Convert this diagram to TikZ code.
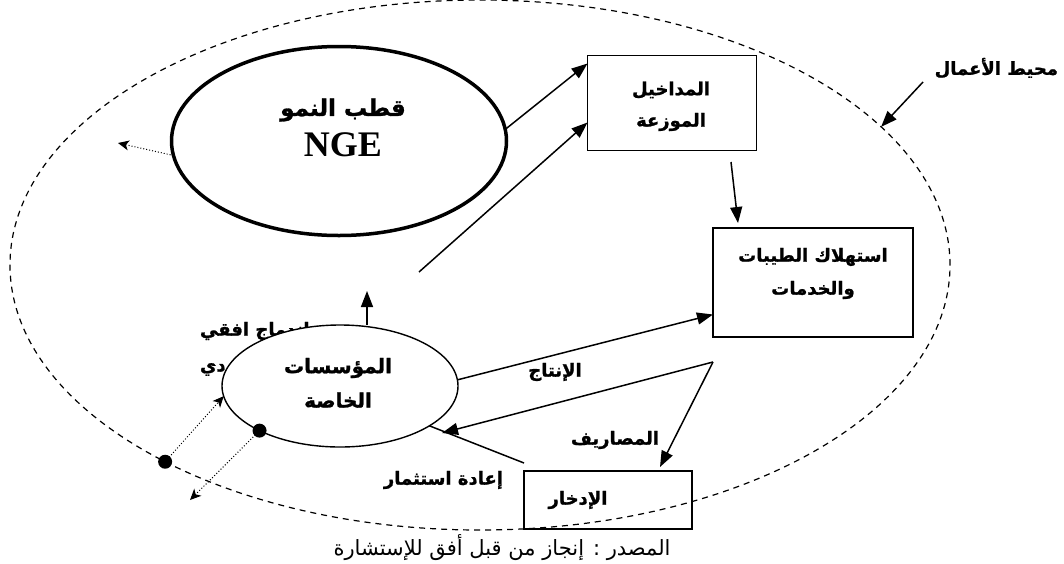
\documentclass[tikz,border=0pt]{standalone}
\usepackage{fontspec}
\setmainfont{Liberation Serif}
\newfontfamily\arabicfont[Script=Arabic,BoldFeatures={FakeBold=1.2}]{DejaVu Sans}
\TeXXeTstate=1
\usetikzlibrary{arrows.meta,shapes.geometric}
\newcommand{\RL}[1]{\beginR #1\endR}
\begin{document}
\begin{tikzpicture}[x=1pt,y=-1pt,
  every node/.style={outer sep=0pt},
  arr/.style={-{Triangle[length=16pt,width=12pt]}, line width=1.5pt},
  plain/.style={line width=1.5pt},
  dotarr/.style={-{Stealth[length=11pt,width=10pt,inset=3pt]}, dotted, line width=1pt},
  bx/.style={draw, line width=1.8pt, inner sep=0pt},
  lbl/.style={font=\arabicfont\bfseries\fontsize{18}{20}\selectfont, inner sep=0pt},
  dot/.style={circle, fill=black, inner sep=0pt, minimum size=14pt},
  envstyle/.style={ellipse, draw, dash pattern=on 6pt off 5pt, line width=1.2pt,
    minimum width=940pt, minimum height=530pt, inner sep=0pt}]
\useasboundingbox (0,0) rectangle (1064,563);

% environment
\node[envstyle] (env) at (480,265) {};

% growth pole
\node[ellipse, draw, line width=3.5pt, minimum width=335pt, minimum height=189pt, inner sep=0pt] (nge) at (339,141) {};
\node[lbl, font=\arabicfont\bfseries\fontsize{23}{25}\selectfont] (ngeA) at (343,110) {\RL{قطب النمو}};
\node[font=\bfseries\fontsize{36}{38}\selectfont, inner sep=0pt] (ngeB) at (343,145) {NGE};

% boxes
\node[bx, minimum width=169pt, minimum height=95pt] (box1) at (672,103) {};
\node[lbl] (b1a) at (671,90) {\RL{المداخيل}};
\node[lbl] (b1b) at (671,122) {\RL{الموزعة}};

\node[bx, minimum width=200pt, minimum height=109pt] (box2) at (813,282.5) {};
\node[lbl] (b2a) at (813,257) {\RL{استهلاك الطيبات}};
\node[lbl] (b2b) at (813,290) {\RL{والخدمات}};

\node[bx, minimum width=168pt, minimum height=58pt] (box3) at (608,500) {};
\node[lbl] (b3) at (578,500) {\RL{الإدخار}};

% text partly hidden behind private enterprises
\node[lbl, anchor=west] (m1) at (200,331) {\RL{اندماج افقي}};
\node[lbl, anchor=west] (m2) at (200,369) {\RL{وعمودي}};

% private enterprises
\node[ellipse, draw, fill=white, line width=1.4pt, minimum width=236pt, minimum height=122pt, inner sep=0pt] (pm) at (340,386) {};
\node[lbl, font=\arabicfont\bfseries\fontsize{20}{22}\selectfont] (pma) at (338,368) {\RL{المؤسسات}};
\node[lbl, font=\arabicfont\bfseries\fontsize{20}{22}\selectfont] (pmb) at (338,400) {\RL{الخاصة}};

% other labels
\node[lbl] (prod) at (555,372) {\RL{الإنتاج}};
\node[lbl] (exp) at (615,440) {\RL{المصاريف}};
\node[lbl, anchor=east] (reinv) at (503,480) {\RL{إعادة استثمار}};
\node[lbl, anchor=east] (envlbl) at (1058,68) {\RL{محيط الأعمال}};
\node[font=\arabicfont\fontsize{21}{23}\selectfont, inner sep=0pt] (src) at (502,548) {\RL{المصدر : إنجاز من قبل أفق للإستشارة}};

% coordinates for free ends
\coordinate (c1) at (419,272);
\coordinate (c2) at (731,162);
\coordinate (up) at (367,291);
\coordinate (apex) at (713,362);
\coordinate (tipm) at (442,433);
\coordinate (la) at (923,82);
\coordinate (t0) at (118,143);
\coordinate (t1) at (190,500);

% connectors
\draw[arr] (nge.4) -- ([yshift=-8pt]box1.north west);
\draw[arr] (c1) -- ([yshift=-67pt]box1.north west);
\draw[arr] (c2) -- ([xshift=-75pt,yshift=5pt]box2.north);
\draw[arr] (pm.3) -- ([yshift=-32pt]box2.west);
\draw[arr] ([xshift=27pt]pm.north) -- (up);
\draw[arr] (apex) -- (tipm);
\draw[arr] (apex) -- ([xshift=52pt,yshift=4pt]box3.north);
\draw[plain] ([yshift=8pt]box3.north west) -- (pm.-24);
\draw[arr] (la) -- (env.19);

% dotted arrows and dots
\draw[dotarr] (nge.185) -- (t0);
\node[dot] (d1) at (pm.209) {};
\node[dot] (d2) at (env.212) {};
\draw[dotarr] (d1.center) -- (t1);
\draw[dotarr] (d2.center) -- (pm.185);
\end{tikzpicture}
\end{document}
